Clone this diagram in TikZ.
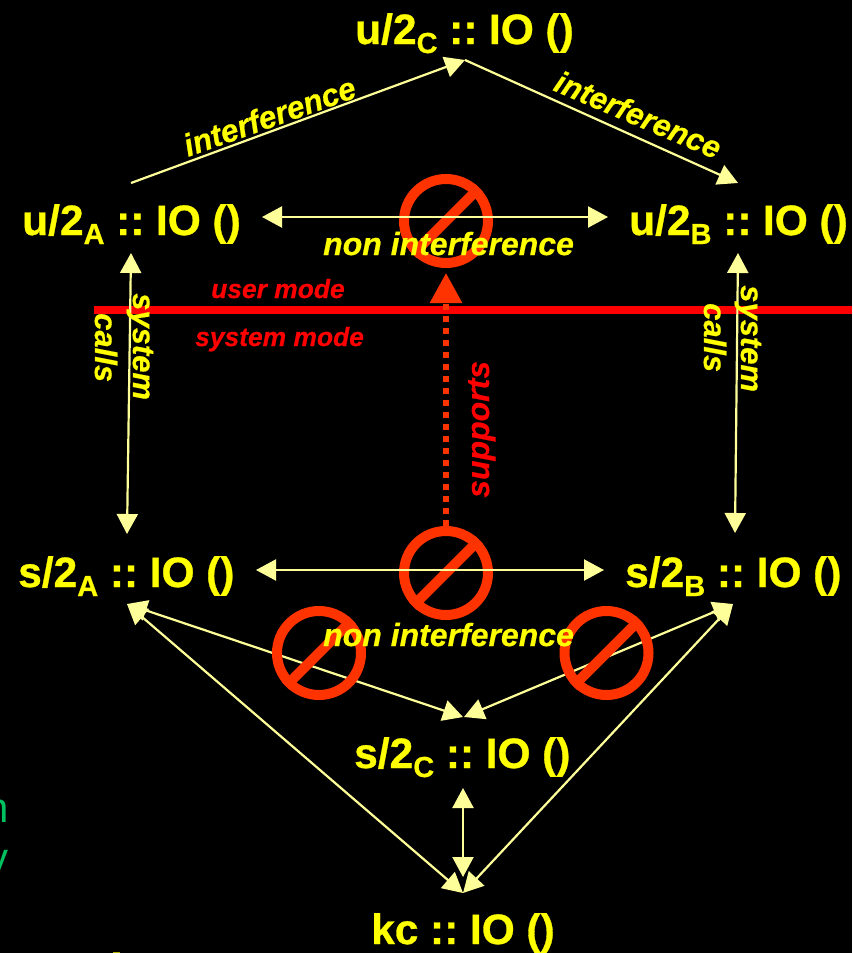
\documentclass[tikz,border=0pt]{standalone}
\usepackage{fontspec}
\setmainfont{Liberation Sans}
\newfontface\labface[BoldFont={},FakeBold=0.7]{Liberation Sans Bold}
\newfontface\itface[FakeBold=0.5]{Liberation Sans Bold Italic}
\usetikzlibrary{arrows.meta}
\definecolor{pale}{HTML}{FFFF99}
\definecolor{yel}{HTML}{FFFF00}
\definecolor{stopc}{HTML}{FF3300}
\definecolor{grn}{HTML}{00C060}
\newcommand{\tsp}{\hspace{11.6pt}}
\newcommand{\ptype}[3]{#1\raisebox{-9pt}{\fontsize{29}{29}\selectfont #2}\tsp::\tsp IO\tsp()}
\tikzset{
  x=1pt,y=-1pt,
  typelab/.style={anchor=base west,inner sep=0pt,text=yel,font=\labface\fontsize{42.5}{50}\selectfont},
  ital/.style={anchor=base west,inner sep=0pt,text=yel,font=\itface\fontsize{32}{38}\selectfont},
  redital/.style={anchor=base west,inner sep=0pt,text=red,font=\itface\fontsize{#1}{38}\selectfont},
  link/.style={draw=pale,line width=2.2pt},
  two/.style={link,{Triangle[length=20pt,width=21pt,fill=pale]}-{Triangle[length=20pt,width=21pt,fill=pale]}},
  one/.style={link,-{Triangle[length=20pt,width=21pt,fill=pale]}},
  ring/.style={circle,draw=stopc,line width=10pt,minimum size=84pt,inner sep=0pt},
  bar/.style={draw=stopc,line width=10pt}
}
\newcommand{\stopsign}[3]{%
  \node[ring] (#1) at (#2,#3) {};
  \draw[bar] (#1.225) -- (#1.45);
}
\begin{document}
\begin{tikzpicture}
\useasboundingbox (0,0) rectangle (852,953);
\fill[black] (0,0) rectangle (852,953);
% cropped fragments at the left edge
\begin{scope}
\clip (0,0) rectangle (852,953);
\node[anchor=base east,inner sep=0pt,text=grn,font=\fontsize{42}{50}\selectfont] (frN) at (9,822) {n};
\node[anchor=base east,inner sep=0pt,text=grn,font=\fontsize{42}{50}\selectfont] (frY) at (9,872) {y};
\fill[yel!70!black] (113,951.5) rectangle (120,953);
\end{scope}
% end points
\coordinate (ua) at (131,183);
\coordinate (ucL) at (465,60);
\coordinate (ucR) at (465,60);
\coordinate (ubT) at (738,183);
\coordinate (uaR) at (262,217);
\coordinate (ubL) at (608,217);
\coordinate (uaB) at (131,253);
\coordinate (saT) at (127,534);
\coordinate (ubB) at (738,253);
\coordinate (sbT) at (735,533);
\coordinate (saR) at (256,570);
\coordinate (sbL) at (604,570);
\coordinate (saB) at (127,604);
\coordinate (sbB) at (733,604);
\coordinate (scL) at (463,717);
\coordinate (scR) at (464,717);
\coordinate (scB) at (463,788);
\coordinate (kcT) at (463,877);
\coordinate (kcL) at (463,893);
\coordinate (kcR) at (463,893);
% mode line
\draw[red,line width=7.5pt] (94,310) coordinate (mA) -- (852,310) coordinate (mB);
% lower diagonals, under the stop signs
\draw[two] (saB) -- (scL);
\draw[two] (sbB) -- (scR);
\draw[two] (saB) -- (kcL);
\draw[two] (sbB) -- (kcR);
\draw[two] (scB) -- (kcT);
\stopsign{stL}{319}{653}
\stopsign{stR}{606.5}{653}
\stopsign{stS}{446}{573}
\stopsign{stU}{446}{221}
% supports arrow
\draw[stopc,line width=6pt,dash pattern=on 6pt off 6pt,-{Triangle[length=30pt,width=31pt,fill=stopc]}] (stS.north) -- (stU.south |- 0,273);
% upper links
\draw[one] (ua) -- (ucL);
\draw[one] (ucR) -- (ubT);
\draw[two] (uaR) -- (ubL);
\draw[two] (uaB) -- (saT);
\draw[two] (ubB) -- (sbT);
\draw[two] (saR) -- (sbL);
% type labels
\node[typelab] (uc) at (355,44) {\ptype{u/2}{C}{}};
\node[typelab] (uA) at (22,235) {\ptype{u/2}{A}{}};
\node[typelab] (uB) at (629,235) {\ptype{u/2}{B}{}};
\node[typelab] (sA) at (18,587) {\ptype{s/2}{A}{}};
\node[typelab] (sB) at (625,587) {\ptype{s/2}{B}{}};
\node[typelab] (sC) at (354,768) {\ptype{s/2}{C}{}};
\node[typelab] (kc) at (371,944) {kc\tsp::\tsp IO\tsp()};
% italic labels
\node[ital,rotate=19.5,font=\itface\fontsize{31.5}{38}\selectfont] (i1) at (188,157) {interference};
\node[ital,rotate=-23,font=\itface\fontsize{31}{38}\selectfont] (i2) at (552,90) {interference};
\node[ital] (n1) at (323,255) {non interference};
\node[ital] (n2) at (323,646) {non interference};
\node[ital,rotate=-90,font=\itface\fontsize{31}{38}\selectfont] (s1) at (133,293) {system};
\node[ital,rotate=-90,font=\itface\fontsize{31}{38}\selectfont] (c1) at (95,313) {calls};
\node[ital,rotate=-90,font=\itface\fontsize{31}{38}\selectfont] (s2) at (741,285) {system};
\node[ital,rotate=-90,font=\itface\fontsize{31}{38}\selectfont] (c2) at (704,303) {calls};
\node[redital=26.4] (um) at (211,298) {user mode};
\node[redital=26.4] (sm) at (195,346) {system mode};
\node[redital=32,rotate=90] (sup) at (489,498) {supports};
\end{tikzpicture}
\end{document}
